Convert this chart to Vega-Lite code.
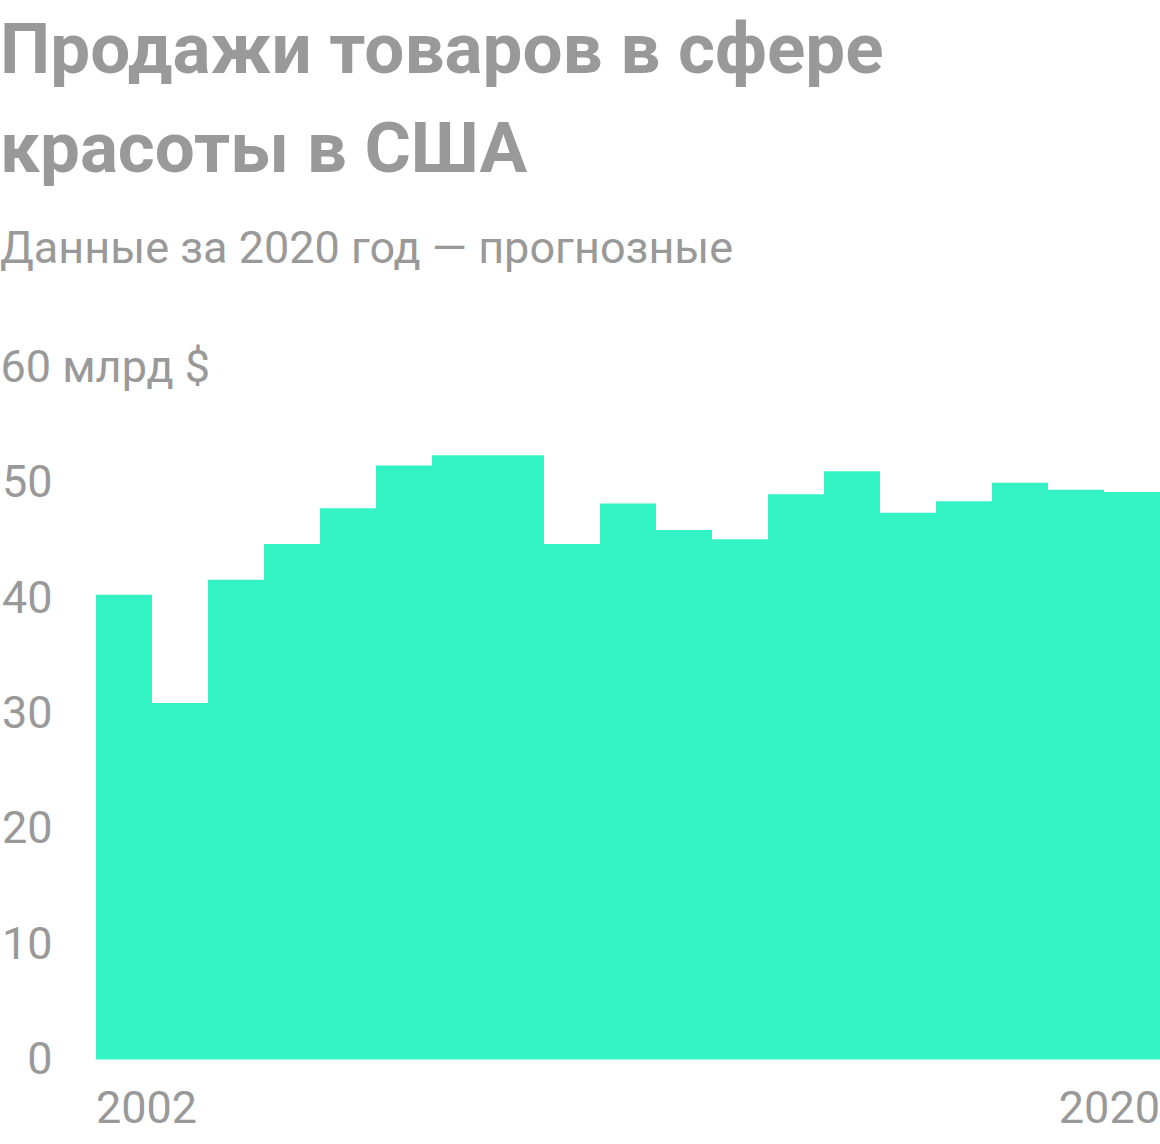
{
  "$schema": "https://vega.github.io/schema/vega-lite/v6.json",
  "autosize": {"type": "none"},
  "padding": {"left": 96, "top": 367.5, "right": 0, "bottom": 84.5},
  "width": 1064,
  "height": 692,
  "background": "white",
  "view": {"stroke": null},
  "title": {
    "text": ["Продажи товаров в сфере", "красоты в США"],
    "subtitle": "Данные за 2020 год — прогнозные",
    "anchor": "start",
    "frame": "bounds",
    "offset": 73,
    "font": "Roboto",
    "fontSize": 71,
    "fontWeight": "bold",
    "color": "#999999",
    "lineHeight": 99,
    "subtitleFont": "Roboto",
    "subtitleFontSize": 45,
    "subtitleColor": "#999999",
    "subtitlePadding": 40
  },
  "data": {
    "values": [
      {"year": 2002, "sales": 40.3},
      {"year": 2003, "sales": 30.9},
      {"year": 2004, "sales": 41.6},
      {"year": 2005, "sales": 44.7},
      {"year": 2006, "sales": 47.8},
      {"year": 2007, "sales": 51.5},
      {"year": 2008, "sales": 52.4},
      {"year": 2009, "sales": 52.4},
      {"year": 2010, "sales": 44.7},
      {"year": 2011, "sales": 48.2},
      {"year": 2012, "sales": 45.9},
      {"year": 2013, "sales": 45.1},
      {"year": 2014, "sales": 49.0},
      {"year": 2015, "sales": 51.0},
      {"year": 2016, "sales": 47.4},
      {"year": 2017, "sales": 48.4},
      {"year": 2018, "sales": 50.0},
      {"year": 2019, "sales": 49.4},
      {"year": 2020, "sales": 49.2}
    ]
  },
  "mark": {"type": "bar", "color": "#33f3c5"},
  "encoding": {
    "x": {
      "field": "year",
      "type": "ordinal",
      "scale": {"type": "band", "paddingInner": 0, "paddingOuter": 0},
      "axis": {
        "title": null,
        "domain": false,
        "ticks": false,
        "labelAngle": 0,
        "labelExpr": "datum.value == 2002 || datum.value == 2020 ? datum.label : ''",
        "labelAlign": {"condition": {"test": "datum.value == 2002", "value": "left"}, "value": "right"},
        "labelOffset": {"condition": {"test": "datum.value == 2002", "value": -28}, "value": 28},
        "labelPadding": 27,
        "labelFont": "Roboto",
        "labelFontSize": 45,
        "labelColor": "#999999"
      }
    },
    "y": {
      "field": "sales",
      "type": "quantitative",
      "scale": {"domain": [0, 60], "nice": false},
      "axis": {
        "values": [0, 10, 20, 30, 40, 50],
        "title": "60 млрд $",
        "titleAngle": 0,
        "titleAlign": "left",
        "titleBaseline": "middle",
        "titleX": -96,
        "titleY": 0,
        "titleFont": "Roboto",
        "titleFontSize": 45,
        "titleFontWeight": "normal",
        "titleColor": "#999999",
        "domain": false,
        "ticks": false,
        "grid": false,
        "labelPadding": 44,
        "labelFont": "Roboto",
        "labelFontSize": 45,
        "labelColor": "#999999"
      }
    }
  }
}
